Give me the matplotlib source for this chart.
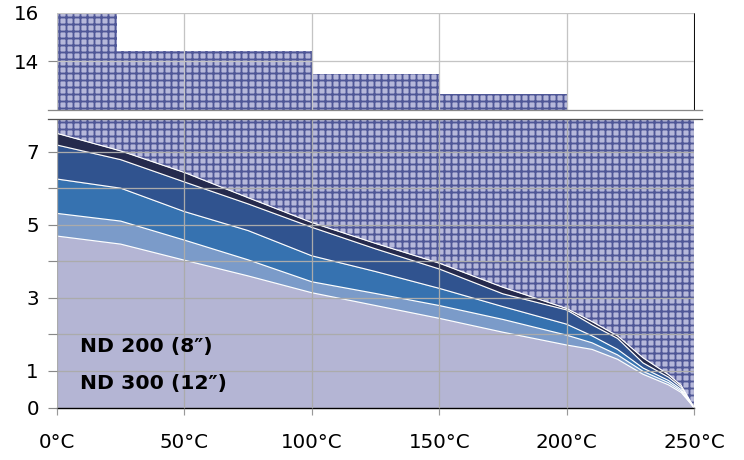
import matplotlib
matplotlib.use("Agg")
import matplotlib.pyplot as plt
import numpy as np

# Data
temps = [0, 25, 50, 75, 100, 125, 150, 175, 200, 210, 220, 230, 240, 245, 250]
curve1 = [4.69, 4.47, 4.03, 3.60, 3.14, 2.79, 2.44, 2.06, 1.71, 1.59, 1.32, 0.91, 0.62, 0.41, 0.0]
curve2 = [5.31, 5.10, 4.58, 4.04, 3.44, 3.12, 2.79, 2.41, 1.98, 1.77, 1.44, 0.99, 0.68, 0.45, 0.0]
curve3 = [6.25, 6.00, 5.36, 4.84, 4.15, 3.72, 3.26, 2.76, 2.28, 1.96, 1.59, 1.08, 0.74, 0.49, 0.0]
curve4 = [7.18, 6.78, 6.17, 5.57, 4.93, 4.34, 3.79, 3.11, 2.67, 2.26, 1.89, 1.22, 0.83, 0.55, 0.0]
curve5 = [7.50, 7.02, 6.43, 5.74, 5.06, 4.49, 3.95, 3.29, 2.71, 2.35, 1.96, 1.36, 0.90, 0.60, 0.0]

step_edges = [0, 23.6, 100, 150, 200, 250]
step_levels = [16, 14.42, 13.46, 12.64, 12, 12]

xtick_vals = [0, 50, 100, 150, 200, 250]
xtick_labels = ["0°C", "50°C", "100°C", "150°C", "200°C", "250°C"]
labels_low = ["0", "1", "", "3", "", "5", "", "7"]

band_colors = ["#b4b5d4", "#7b9bc9", "#3672b0", "#30538f", "#252a4d"]
hatch_bg = "#b6b8da"
hatch_col = "#4f5797"
grid_col = "#ababab"

plt.rcParams["hatch.linewidth"] = 1.6
plt.rcParams["font.family"] = "DejaVu Sans"

fig = plt.figure(figsize=(744 / 84, 460 / 84), dpi=84)
ax_top = fig.add_axes([0.0766, 0.7609, 0.8562, 0.2115])
ax = fig.add_axes([0.0766, 0.1141, 0.8562, 0.6266])

# bottom axes: stacked bands
curves = [np.zeros(len(temps)), curve1, curve2, curve3, curve4, curve5]
for i in range(5):
    ax.fill_between(temps, curves[i], curves[i + 1], color=band_colors[i], lw=0, zorder=1)
ax.fill_between(temps, curve5, 7.885, facecolor=hatch_bg, edgecolor=hatch_col,
                hatch="++", lw=0, zorder=1)
for c in curves[1:]:
    ax.plot(temps, c, color="white", lw=1.0, zorder=2)

ax.set_xlim(0, 250)
ax.set_ylim(0, 7.885)
ax.set_xticks(xtick_vals)
ax.set_xticklabels(xtick_labels)
ax.set_yticks(range(8))
ax.set_yticklabels(labels_low)
ax.grid(True, color=grid_col, lw=1.1, zorder=3)
ax.set_axisbelow(False)

# top axes: steps
ax_top.fill_between(step_edges, 12, step_levels, step="post", facecolor=hatch_bg,
                    edgecolor=hatch_col, hatch="++", lw=0, zorder=1)
ax_top.set_xlim(0, 250)
ax_top.set_ylim(12, 16)
ax_top.set_xticks(xtick_vals)
ax_top.set_xticklabels([])
ax_top.set_yticks([14, 16])
ax_top.set_yticklabels(["14", "16"])
ax_top.grid(True, color="#c4c4c4", lw=1.1, zorder=3)
ax_top.set_axisbelow(False)
ax_top.tick_params(axis="x", length=0)
ax_top.yaxis.get_major_ticks()[1].tick1line.set_visible(False)

for a in (ax, ax_top):
    a.tick_params(axis="y", length=7.5, width=1, color="#888888", labelsize=17, pad=8)
    a.spines["left"].set_color("#777777")
ax.tick_params(axis="x", length=6, width=1, color="#999999", labelsize=17, pad=16)

ax.spines["bottom"].set_color("black")
ax.spines["bottom"].set_linewidth(1.2)
ax.spines["right"].set_visible(False)
ax.spines["top"].set_visible(False)
ax_top.spines["top"].set_color("#666666")
ax_top.spines["right"].set_color("black")
ax_top.spines["bottom"].set_visible(False)

# break marks
ax.plot([-0.014, 1.012], [1, 1], transform=ax.transAxes, color="#555555", lw=1.1,
        clip_on=False, zorder=5)
ax_top.plot([-0.014, 1.012], [0, 0], transform=ax_top.transAxes, color="#888888", lw=1.1,
            clip_on=False, zorder=5)

ax.text(9, 1.68, "ND 200 (8″)", fontsize=17.5, fontweight="bold", va="center", zorder=6)
ax.text(9, 0.66, "ND 300 (12″)", fontsize=17.5, fontweight="bold", va="center", zorder=6)

fig.savefig("out.png", dpi=84)
